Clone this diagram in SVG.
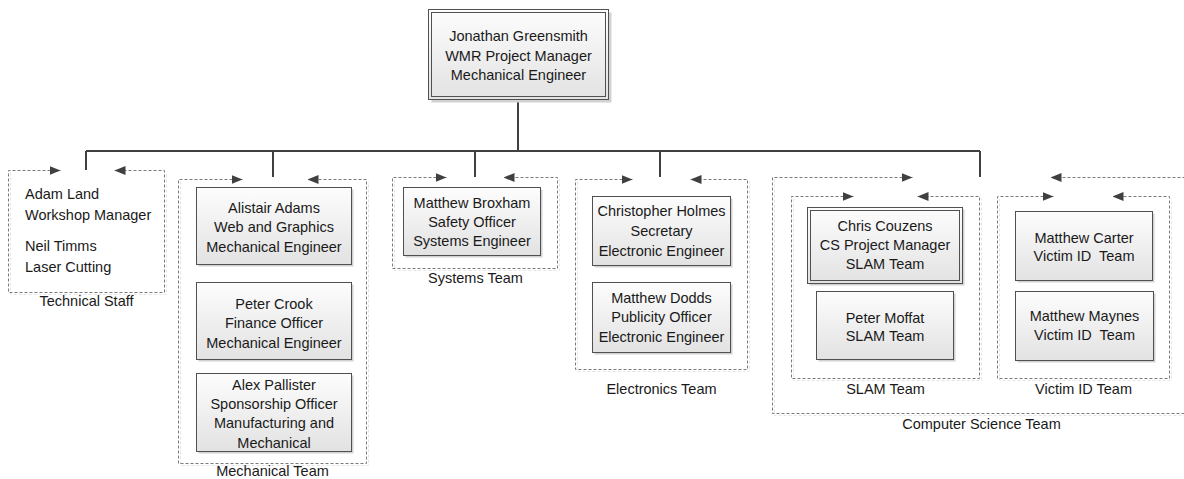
<svg xmlns="http://www.w3.org/2000/svg" width="1184" height="479" viewBox="0 0 1184 479">
<defs>
<linearGradient id="g" x1="0" y1="0" x2="0" y2="1">
<stop offset="0" stop-color="#fdfdfd"/>
<stop offset="1" stop-color="#e2e2e2"/>
</linearGradient>
<marker id="ah" markerUnits="userSpaceOnUse" markerWidth="11" markerHeight="9" refX="11" refY="4.5" orient="auto-start-reverse">
<path d="M0,0 L11,4.5 L0,9 z" fill="#404040"/>
</marker>
</defs>
<style>
text{font-family:"Liberation Sans",Arial,sans-serif;font-size:14.5px;fill:#1a1a1a;text-anchor:middle}
.l{text-anchor:start}
.box{fill:url(#g);stroke:#505050;stroke-width:1}
.sh{fill:#d2d2d2}
.frame{fill:none;stroke:#7a7a7a;stroke-width:1;stroke-dasharray:3 2;marker-start:url(#ah);marker-end:url(#ah)}
.fsh{fill:none;stroke:#e4e4e4;stroke-width:1;stroke-dasharray:3 2}
.con{fill:none;stroke:#404040;stroke-width:2}
</style>

<g id="connectors">
<path class="con" d="M518,99 V151 M86,151 H980 M86,151 V170 M273,151 V177 M475,151 V177 M660,151 V177 M980,151 V177"/>
</g>

<g id="frame-technical" transform="translate(0.5,0.5)">
<path class="fsh" d="M10,172 V294 H166 V172"/>
<path class="frame" d="M60,170 H8 V292 H164 V170 H114"/>
<text x="86" y="305">Technical Staff</text>
</g>
<g id="frame-mechanical" transform="translate(0.5,0.5)">
<path class="fsh" d="M180,181 V465 H368 V181"/>
<path class="frame" d="M242,179 H178 V463 H366 V179 H307"/>
<text x="272" y="475">Mechanical Team</text>
</g>
<g id="frame-systems" transform="translate(0.5,0.5)">
<path class="fsh" d="M394,179 V270 H559 V179"/>
<path class="frame" d="M446,177 H392 V268 H557 V177 H503"/>
<text x="475" y="282">Systems Team</text>
</g>
<g id="frame-electronics" transform="translate(0.5,0.5)">
<path class="fsh" d="M577,181 V371 H749 V181"/>
<path class="frame" d="M632,179 H575 V369 H747 V179 H690"/>
<text x="661" y="393">Electronics Team</text>
</g>
<g id="frame-cs" transform="translate(0.5,0.5)">
<path class="fsh" d="M774,179 V415 H1192"/>
<path class="frame" d="M912,177 H772 V413 H1195 V177 H1050"/>
<text x="981" y="428">Computer Science Team</text>
</g>
<g id="frame-slam" transform="translate(0.5,0.5)">
<path class="fsh" d="M793,198 V380 H981 V198"/>
<path class="frame" d="M853,196 H791 V378 H979 V196 H917"/>
<text x="885" y="393">SLAM Team</text>
</g>
<g id="frame-victim" transform="translate(0.5,0.5)">
<path class="fsh" d="M999,198 V380 H1171 V198"/>
<path class="frame" d="M1053,196 H997 V378 H1169 V196 H1112"/>
<text x="1083" y="393">Victim ID Team</text>
</g>

<g id="node-greensmith" transform="translate(0.5,0.5)">
<rect class="sh" x="431" y="12" width="180" height="90"/>
<rect class="box" x="428" y="9" width="180" height="90"/>
<rect fill="none" stroke="#505050" x="431" y="12" width="174" height="84"/>
<text x="518" y="40">Jonathan Greensmith</text>
<text x="518" y="60">WMR Project Manager</text>
<text x="518" y="79">Mechanical Engineer</text>
</g>

<g id="node-technical">
<text class="l" x="25" y="199">Adam Land</text>
<text class="l" x="25" y="220">Workshop Manager</text>
<text class="l" x="25" y="251">Neil Timms</text>
<text class="l" x="25" y="272">Laser Cutting</text>
</g>

<g id="node-adams" transform="translate(0.5,0.5)">
<rect class="sh" x="198" y="189" width="155" height="77"/>
<rect class="box" x="196" y="187" width="155" height="77"/>
<text x="273.5" y="212">Alistair Adams</text>
<text x="273.5" y="231">Web and Graphics</text>
<text x="273.5" y="251">Mechanical Engineer</text>
</g>
<g id="node-crook" transform="translate(0.5,0.5)">
<rect class="sh" x="198" y="284" width="155" height="77"/>
<rect class="box" x="196" y="282" width="155" height="77"/>
<text x="273.5" y="308">Peter Crook</text>
<text x="273.5" y="327">Finance Officer</text>
<text x="273.5" y="347">Mechanical Engineer</text>
</g>
<g id="node-pallister" transform="translate(0.5,0.5)">
<rect class="sh" x="198" y="375" width="155" height="78"/>
<rect class="box" x="196" y="373" width="155" height="78"/>
<text x="273.5" y="389">Alex Pallister</text>
<text x="273.5" y="408">Sponsorship Officer</text>
<text x="273.5" y="427">Manufacturing and</text>
<text x="273.5" y="447">Mechanical</text>
</g>

<g id="node-broxham" transform="translate(0.5,0.5)">
<rect class="sh" x="405" y="189" width="137" height="68"/>
<rect class="box" x="403" y="187" width="137" height="68"/>
<text x="471.5" y="207">Matthew Broxham</text>
<text x="471.5" y="226">Safety Officer</text>
<text x="471.5" y="245">Systems Engineer</text>
</g>

<g id="node-holmes" transform="translate(0.5,0.5)">
<rect class="sh" x="594" y="198" width="138" height="69"/>
<rect class="box" x="592" y="196" width="138" height="69"/>
<text x="661" y="215">Christopher Holmes</text>
<text x="661" y="235">Secretary</text>
<text x="661" y="255">Electronic Engineer</text>
</g>
<g id="node-dodds" transform="translate(0.5,0.5)">
<rect class="sh" x="594" y="284" width="138" height="70"/>
<rect class="box" x="592" y="282" width="138" height="70"/>
<text x="661" y="302">Matthew Dodds</text>
<text x="661" y="321">Publicity Officer</text>
<text x="661" y="341">Electronic Engineer</text>
</g>

<g id="node-couzens" transform="translate(0.5,0.5)">
<rect class="sh" x="809" y="209" width="155" height="76"/>
<rect class="box" x="807" y="207" width="155" height="76"/>
<rect fill="none" stroke="#505050" x="810" y="210" width="149" height="70"/>
<text x="884.5" y="230">Chris Couzens</text>
<text x="884.5" y="249">CS Project Manager</text>
<text x="884.5" y="268">SLAM Team</text>
</g>
<g id="node-moffat" transform="translate(0.5,0.5)">
<rect class="sh" x="818" y="293" width="137" height="68"/>
<rect class="box" x="816" y="291" width="137" height="68"/>
<text x="884.5" y="322">Peter Moffat</text>
<text x="884.5" y="340">SLAM Team</text>
</g>

<g id="node-carter" transform="translate(0.5,0.5)">
<rect class="sh" x="1017" y="213" width="137" height="69"/>
<rect class="box" x="1015" y="211" width="137" height="69"/>
<text x="1083.5" y="242">Matthew Carter</text>
<text x="1083.5" y="260" xml:space="preserve">Victim ID  Team</text>
</g>
<g id="node-maynes" transform="translate(0.5,0.5)">
<rect class="sh" x="1017" y="293" width="138" height="69"/>
<rect class="box" x="1015" y="291" width="138" height="69"/>
<text x="1084" y="320">Matthew Maynes</text>
<text x="1084" y="339" xml:space="preserve">Victim ID  Team</text>
</g>
</svg>
